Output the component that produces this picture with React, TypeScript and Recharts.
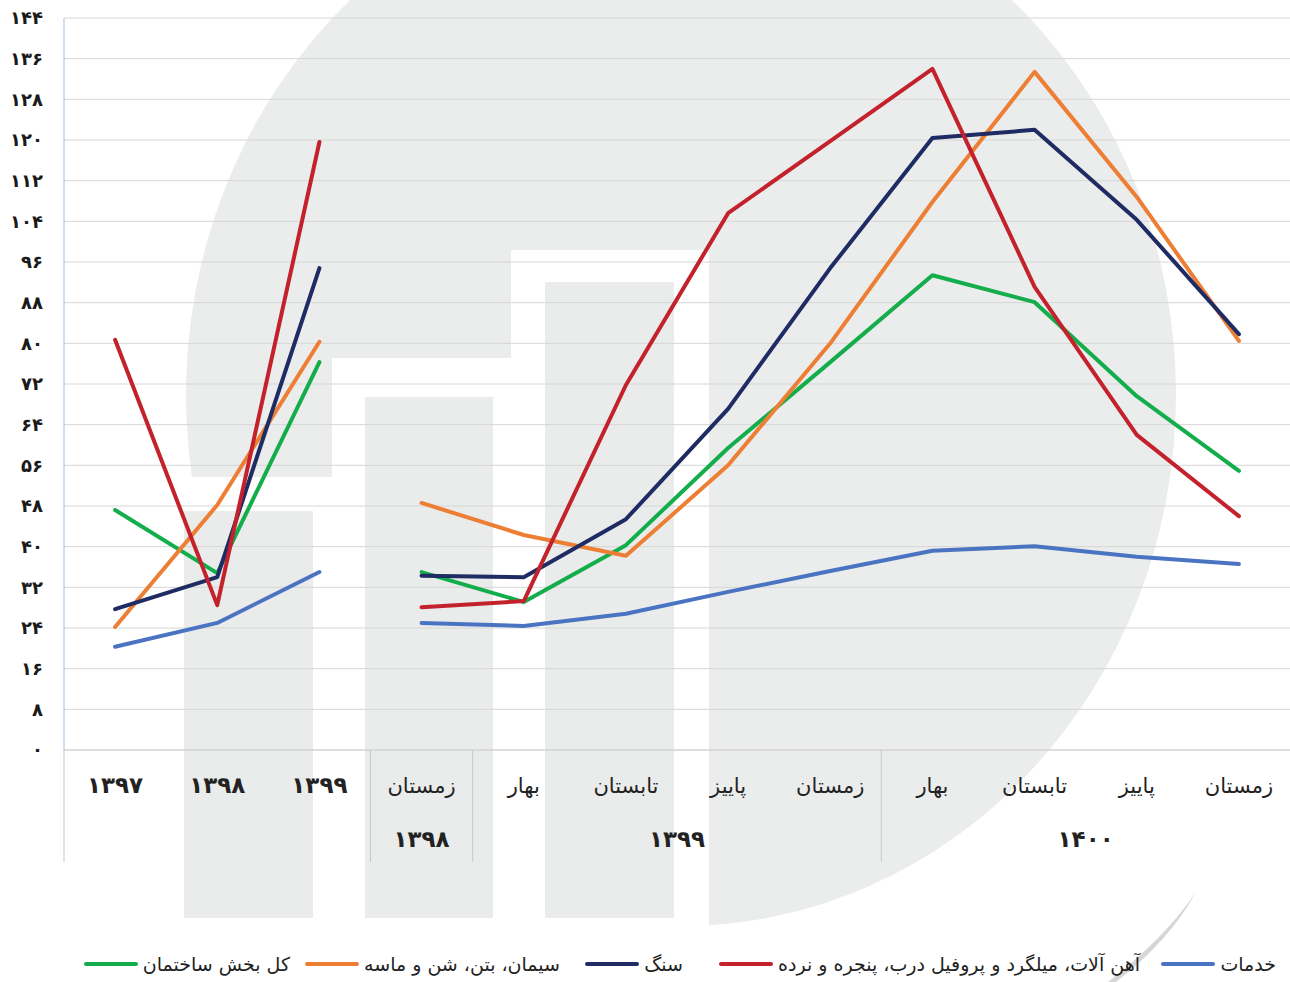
import React from 'react';
import { LineChart, Line, XAxis, YAxis, CartesianGrid } from 'recharts';

const W = 1290;
const H = 982;
const PLOT_LEFT = 64;
const PLOT_TOP = 18;
const PLOT_BOTTOM = 750;
const BAND = (W - PLOT_LEFT) / 12;

// x categories (first three are years, then seasons)
const categories = ['۱۳۹۷', '۱۳۹۸', '۱۳۹۹', 'زمستان', 'بهار', 'تابستان', 'پاییز', 'زمستان', 'بهار', 'تابستان', 'پاییز', 'زمستان'];
// second row of the axis: year of each season group
const groupLabels = [
  { text: '۱۳۹۸', at: 3, shift: 0 },
  { text: '۱۳۹۹', at: 6, shift: -0.5 },
  { text: '۱۴۰۰', at: 9, shift: 0.5 },
];
// indexes where a group separator starts
const separatorAt = [0, 3, 4, 8];

const yTicks = [0, 8, 16, 24, 32, 40, 48, 56, 64, 72, 80, 88, 96, 104, 112, 120, 128, 136, 144];

// series values
const total = [47.2, 34.8, 76.3, 35, 29.1, 40.3, 59.4, 76.3, 93.4, 88.1, 69.6, 54.9];
const cement = [24.2, 48.2, 80.3, 48.6, 42.3, 38.2, 56, 80, 107.8, 133.4, 108.8, 80.5];
const stone = [27.7, 34, 94.8, 34.3, 34, 45.4, 67.1, 94.8, 120.4, 122, 104.3, 81.8];
const iron = [80.7, 28.5, 119.6, 28.1, 29.3, 71.8, 105.6, 119.8, 134, 91.1, 62, 46];
const services = [20.3, 25, 35, 25, 24.4, 26.8, 31.1, 35.2, 39.2, 40.1, 38, 36.6];

const series = [
  { key: 'total', name: 'کل بخش ساختمان', color: '#13ad4b', values: total },
  { key: 'cement', name: 'سیمان، بتن، شن و ماسه', color: '#ed7f35', values: cement },
  { key: 'stone', name: 'سنگ', color: '#1f2b63', values: stone },
  { key: 'iron', name: 'آهن آلات، میلگرد و پروفیل درب، پنجره و نرده', color: '#c3222c', values: iron },
  { key: 'services', name: 'خدمات', color: '#4a74c2', values: services },
];

// annual part (first 3) and seasonal part drawn as separate lines
const data = categories.map((name, i) => {
  const row: any = { name };
  series.forEach((s) => {
    row[s.key + '_a'] = i < 3 ? s.values[i] : null;
    row[s.key + '_q'] = i >= 3 ? s.values[i] : null;
  });
  return row;
});

const toFa = (n: number | string) => String(n).replace(/[0-9]/g, (d) => '۰۱۲۳۴۵۶۷۸۹'[+d]);
const isDigits = (s: string) => /^[۰-۹]+$/.test(s);

const FONT = '"DejaVu Sans", sans-serif';

const YTick = (props: any) => {
  const { x, y, payload } = props;
  return (
    <text x={x} y={y} dy="0.36em" textAnchor="end" fontFamily={FONT} fontSize={18} fontWeight="bold" fill="#1a1a1a">
      {toFa(payload.value)}
    </text>
  );
};

const XTick = (props: any) => {
  const { x, y, payload } = props;
  const i = payload.index;
  const group = groupLabels.find((g) => g.at === i);
  const digits = isDigits(payload.value);
  return (
    <g>
      <text
        x={x}
        y={y + 43}
        textAnchor="middle"
        fontFamily={FONT}
        fontSize={digits ? 23 : 21}
        fontWeight={digits ? 'bold' : 'normal'}
        fill="#222"
      >
        {payload.value}
      </text>
      {group && (
        <text x={x + group.shift * BAND} y={y + 97} textAnchor="middle" fontFamily={FONT} fontSize={23} fontWeight="bold" fill="#222">
          {group.text}
        </text>
      )}
      {separatorAt.includes(i) && (
        <line x1={x - BAND / 2} x2={x - BAND / 2} y1={y} y2={y + 112} stroke="#c9c9c9" strokeWidth={1} />
      )}
    </g>
  );
};

// faint logo watermark behind the chart
const Watermark = () => (
  <svg width={W} height={H} style={{ position: 'absolute', left: 0, top: 0 }}>
    <ellipse cx={681} cy={395} rx={495} ry={531} fill="#ebecec" />
    <polygon points="150,477 332,477 332,358 511,358 511,250 709,250 709,982 150,982" fill="#fff" />
    <rect x={184} y={511} width={129} height={407} fill="#eaebeb" />
    <rect x={365} y={397} width={128} height={521} fill="#eaebeb" />
    <rect x={545} y={282} width={129} height={636} fill="#eaebeb" />
    <path d="M1196,892 Q1165,938 1108,982 L1116,982 Q1170,940 1196,892 Z" fill="#d6d6d6" />
  </svg>
);

const Legend = () => {
  const items = [
    { s: series[4], right: 1276 },
    { s: series[3], right: 1140 },
    { s: series[2], right: 683 },
    { s: series[1], right: 560 },
    { s: series[0], right: 290 },
  ];
  return (
    <>
      {items.map(({ s, right }) => (
        <div
          key={s.key}
          style={{
            position: 'absolute',
            top: 953,
            right: W - right,
            direction: 'rtl',
            display: 'flex',
            alignItems: 'center',
            gap: 5,
            fontFamily: FONT,
            fontSize: 19,
            color: '#222',
            whiteSpace: 'nowrap',
          }}
        >
          <span>{s.name}</span>
          <span style={{ display: 'inline-block', width: 54, height: 4, borderRadius: 2, background: s.color }} />
        </div>
      ))}
    </>
  );
};

export default function App() {
  return (
    <div style={{ position: 'absolute', left: 0, top: 0, width: W, height: H, background: '#fff', overflow: 'hidden' }}>
      <Watermark />
      <div style={{ position: 'absolute', left: 0, top: 0 }}>
        <LineChart
          width={W}
          height={H}
          data={data}
          margin={{ top: PLOT_TOP, right: 0, left: 0, bottom: H - PLOT_BOTTOM - 120 }}
        >
          <CartesianGrid vertical={false} stroke="#d6d6d6" strokeWidth={1} />
          <XAxis
            dataKey="name"
            height={120}
            interval={0}
            padding={{ left: BAND / 2, right: BAND / 2 }}
            tickSize={0}
            tickMargin={0}
            tickLine={false}
            axisLine={{ stroke: '#d0d0d0' }}
            tick={<XTick />}
          />
          <YAxis
            width={PLOT_LEFT}
            domain={[0, 144]}
            ticks={yTicks}
            interval={0}
            tickSize={0}
            tickMargin={21}
            tickLine={false}
            axisLine={{ stroke: '#9cc2e8' }}
            tick={<YTick />}
          />
          {series.map((s) => (
            <Line
              key={s.key + '_a'}
              type="linear"
              dataKey={s.key + '_a'}
              stroke={s.color}
              strokeWidth={4}
              strokeLinecap="round"
              strokeLinejoin="round"
              dot={false}
              activeDot={false}
              isAnimationActive={false}
            />
          ))}
          {series.map((s) => (
            <Line
              key={s.key + '_q'}
              type="linear"
              dataKey={s.key + '_q'}
              stroke={s.color}
              strokeWidth={4}
              strokeLinecap="round"
              strokeLinejoin="round"
              dot={false}
              activeDot={false}
              isAnimationActive={false}
            />
          ))}
        </LineChart>
      </div>
      <Legend />
    </div>
  );
}
